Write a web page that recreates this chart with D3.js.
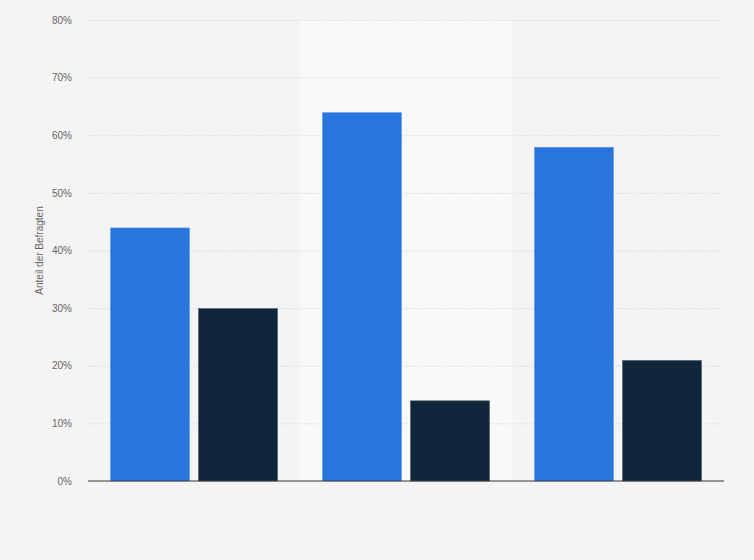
<!DOCTYPE html>
<html lang="de">
<head>
<meta charset="utf-8" />
<title>Anteil der Befragten</title>
<script src="https://d3js.org/d3.v7.min.js"></script>
<style>
    body {
        margin: 0;
        background: #f4f4f4;
        font-family: Arial, "Liberation Sans", sans-serif;
    }
    .grid line {
        stroke: #d9d9d9;
        stroke-dasharray: 1.5 1.5;
    }
    .y-axis text {
        fill: #666;
        font-size: 10px;
    }
</style>
</head>
<body>
<script>
// data (no category labels are shown in the original)
const categories = ["Gruppe 1", "Gruppe 2", "Gruppe 3"];
const series = ["Serie 1", "Serie 2"];
const values1 = [44, 64, 58]; // blue bars
const values2 = [30, 14, 21]; // dark bars
const yTicks = [0, 10, 20, 30, 40, 50, 60, 70, 80];
const colors = ["#2876dd", "#10263b"];
const strokes = ["#5a95e6", "#4a5a6a"];

const width = 754, height = 560;
const margin = {top: 20, right: 30, bottom: 79, left: 88};

const svg = d3.select("body").append("svg")
    .attr("width", width)
    .attr("height", height);

const x0 = d3.scaleBand()
    .domain(categories)
    .range([margin.left, width - margin.right]);

const x1 = d3.scaleBand()
    .domain(series)
    .range([0, x0.bandwidth()])
    .paddingInner(0.0909)
    .paddingOuter(0.25);

const y = d3.scaleLinear()
    .domain([0, 80])
    .range([height - margin.bottom, margin.top]);

// highlighted middle column
svg.append("rect")
    .attr("x", x0(categories[1]))
    .attr("y", margin.top)
    .attr("width", x0.bandwidth())
    .attr("height", y(0) - margin.top)
    .attr("fill", "#f9f9f9");

// grid
svg.append("g")
    .attr("class", "grid")
    .attr("transform", `translate(${margin.left},0)`)
    .call(d3.axisLeft(y).tickValues(yTicks.slice(1))
        .tickSize(-(width - margin.left - margin.right)).tickFormat(""))
    .call(g => g.select(".domain").remove());

// y axis labels
svg.append("g")
    .attr("class", "y-axis")
    .attr("transform", `translate(${margin.left - 16},0)`)
    .call(d3.axisLeft(y).tickValues(yTicks).tickSize(0).tickFormat(d => d + "%"))
    .call(g => g.select(".domain").remove())
    .call(g => g.selectAll("text").attr("x", 0).attr("font-family", "Arial, 'Liberation Sans', sans-serif"));

// bars
const rows = categories.map((c, i) => ({cat: c, vals: [values1[i], values2[i]]}));

const groups = svg.selectAll("g.group")
    .data(rows)
    .enter()
    .append("g")
    .attr("class", "group")
    .attr("transform", d => `translate(${x0(d.cat)},0)`);

groups.selectAll("rect")
    .data(d => d.vals.map((v, j) => ({s: series[j], v: v, j: j})))
    .enter()
    .append("rect")
    .attr("x", d => x1(d.s) + 0.5)
    .attr("y", d => y(d.v) + 0.5)
    .attr("width", x1.bandwidth() - 1)
    .attr("height", d => y(0) - y(d.v) - 0.5)
    .attr("fill", d => colors[d.j])
    .attr("stroke", d => strokes[d.j])
    .attr("stroke-width", 0.6);

// baseline
svg.append("line")
    .attr("x1", margin.left)
    .attr("x2", width - margin.right)
    .attr("y1", y(0))
    .attr("y2", y(0))
    .attr("stroke", "#333")
    .attr("stroke-width", 1.2);

// y axis title
svg.append("text")
    .attr("transform", `translate(43,${(margin.top + y(0)) / 2}) rotate(-90)`)
    .attr("text-anchor", "middle")
    .attr("fill", "#666")
    .attr("font-size", 10)
    .attr("font-family", "Arial, 'Liberation Sans', sans-serif")
    .text("Anteil der Befragten");
</script>
</body>
</html>
